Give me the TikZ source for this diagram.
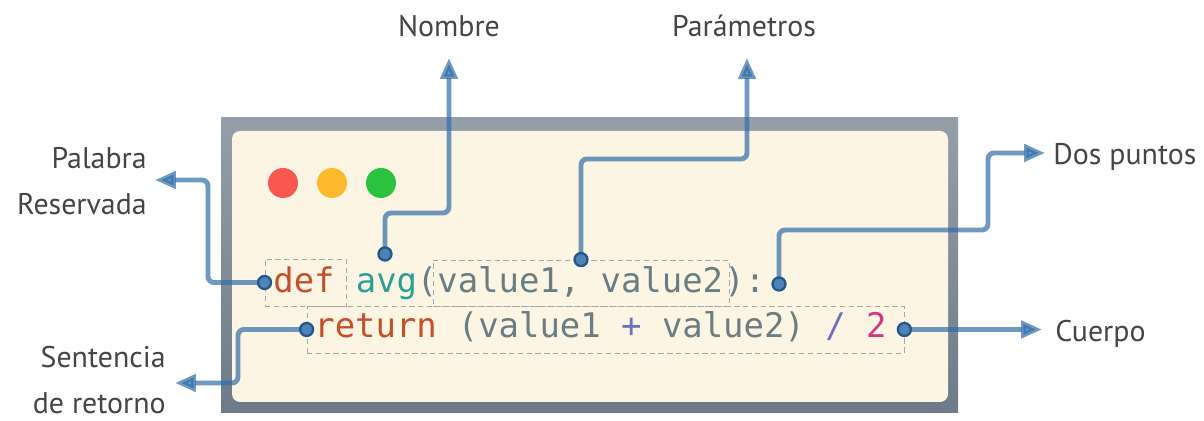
\documentclass[tikz,border=0pt]{standalone}
\usepackage{fontspec}
\usepackage{tikz}
\usetikzlibrary{arrows.meta}
\setmainfont{PT Sans}
\newfontfamily\codeFont{DejaVu Sans Mono}
\definecolor{kwColor}{HTML}{C4502A}
\definecolor{fnColor}{HTML}{2AA198}
\definecolor{baseColor}{HTML}{6A7D82}
\definecolor{opColor}{HTML}{6C71C4}
\definecolor{numColor}{HTML}{D33682}
\definecolor{panelColor}{HTML}{FCF5E4}
\definecolor{frameTop}{HTML}{959FAA}
\definecolor{frameBot}{HTML}{6E7A87}
\definecolor{slotColor}{HTML}{A8A8A8}
\definecolor{leadColor}{HTML}{2F6EA8}
\definecolor{dotColor}{HTML}{22578A}
\definecolor{tagColor}{HTML}{454545}
\definecolor{redLight}{HTML}{F95750}
\definecolor{yellowLight}{HTML}{FDBA2D}
\definecolor{greenLight}{HTML}{2AC23E}
\newcommand{\pxUnit}[0]{0.02cm}
\pgfdeclarelayer{back}
\pgfdeclarelayer{links}
\pgfsetlayers{back,links,main}

\begin{document}
\begin{tikzpicture}[x=\pxUnit, y=-\pxUnit]
  \tikzset{
    code/.style={font=\codeFont\fontsize{19.3}{23}\selectfont, text=baseColor, inner sep=0pt, anchor=base west},
    slot/.style={draw=slotColor, dash pattern=on 3pt off 2pt, line width=0.5pt, inner sep=0pt},
    light/.style={circle, minimum size=0.6cm, inner sep=0pt},
    dot/.style={circle, fill=leadColor!85, draw=dotColor, line width=1.3pt, minimum size=0.26cm, inner sep=0pt},
    lead/.style={draw=leadColor, line width=2.8pt, opacity=0.7, rounded corners=0.12cm, -{Triangle[length=0.42cm, width=0.34cm]}},
    tag/.style={font=\fontsize{17}{26}\selectfont, text=tagColor, inner sep=0pt}
  }
  \useasboundingbox (0,0) rectangle (1204,421);
  \begin{pgfonlayer}{back}
    \shade[top color=frameTop, bottom color=frameBot] (221,118) rectangle (958,413);
    \fill[panelColor, rounded corners=0.16cm] (232,131) rectangle (948,402);
  \end{pgfonlayer}
  \node[light, fill=redLight] (LIGHT-1) at (283,183) {};
  \node[light, fill=yellowLight] (LIGHT-2) at (332,183) {};
  \node[light, fill=greenLight] (LIGHT-3) at (381,183) {};
  \node[slot, minimum width=1.62cm, minimum height=0.94cm] (BOX-1) at (305.5,282.5) {};
  \node[slot, minimum width=5.92cm, minimum height=0.92cm] (BOX-2) at (581,283) {};
  \node[slot, minimum width=11.94cm, minimum height=0.94cm] (BOX-3) at (605.5,329.5) {};
  \node[code, text=kwColor] (KW-1) at (273,293) {def};
  \node[code, text=fnColor] (FN-1) at (355.5,293) {avg};
  \node[code] (PAR-1) at (416.5,293) {(};
  \node[code] (ARG-1) at (437,293) {value1, value2};
  \node[code] (COL-1) at (724,293) {):};
  \node[code, text=kwColor] (KW-2) at (314,338) {return};
  \node[code] (BODY-1) at (457.5,338) {(value1 \textcolor{opColor}{+} value2) \textcolor{opColor}{/} \textcolor{numColor}{2}};
  \node[dot] (DOT-1) at (BOX-1.west) {};
  \node[dot] (DOT-2) at (385,254) {};
  \node[dot] (DOT-3) at (BOX-2.north) {};
  \node[dot] (DOT-4) at (779,284) {};
  \node[dot] (DOT-5) at (BOX-3.east) {};
  \node[dot] (DOT-6) at (BOX-3.west) {};
  \node[tag, anchor=east, align=right] (LBL-1) at (147,181) {Palabra\\Reservada};
  \node[tag, anchor=base] (LBL-2) at (449,37) {Nombre};
  \node[tag, anchor=base] (LBL-3) at (744,37) {Parámetros};
  \node[tag, anchor=base west] (LBL-4) at (1053,165) {Dos puntos};
  \node[tag, anchor=base west] (LBL-5) at (1055,342) {Cuerpo};
  \node[tag, anchor=east, align=right] (LBL-6) at (166,380) {Sentencia\\de retorno};
  \coordinate (TIP-1) at (155,180);
  \coordinate (TIP-2) at (449,58);
  \coordinate (TIP-3) at (747,58);
  \coordinate (TIP-4) at (1045,153);
  \coordinate (TIP-5) at (1042,329.5);
  \coordinate (TIP-6) at (175,383);
  \begin{pgfonlayer}{links}
    \draw[lead] (DOT-1.center) -| (208,180) -- (TIP-1);
    \draw[lead] (DOT-2.center) |- (449,213) -- (TIP-2);
    \draw[lead] (DOT-3.center) |- (747,159) -- (TIP-3);
    \draw[lead] (DOT-4.center) |- (988,230) |- (TIP-4);
    \draw[lead] (DOT-5.center) -- (TIP-5);
    \draw[lead] (DOT-6.center) -| (238,383) -- (TIP-6);
  \end{pgfonlayer}
\end{tikzpicture}
\end{document}
